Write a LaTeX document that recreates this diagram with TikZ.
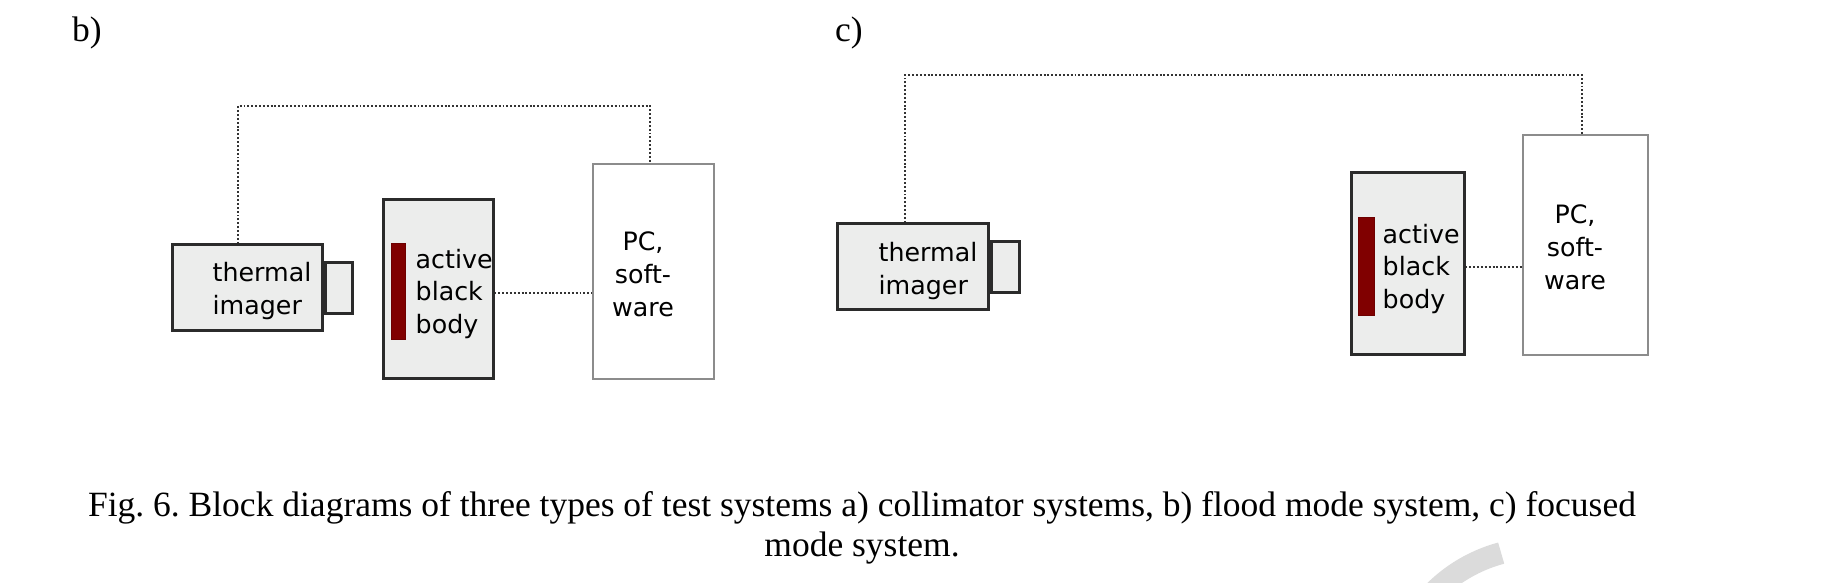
\documentclass[tikz,border=0pt]{standalone}
\usepackage{fontspec}
\setmainfont{Liberation Serif}
\newfontfamily\blockfont{DejaVu Sans}
\usetikzlibrary{positioning}
\frenchspacing
\definecolor{boxfill}{HTML}{ECEDEC}
\definecolor{boxline}{HTML}{2B2B2B}
\definecolor{pcline}{HTML}{8C8C8C}
\definecolor{barred}{HTML}{800000}
\definecolor{wirecol}{HTML}{333333}
\tikzset{
  devbox/.style={draw=boxline, fill=boxfill, line width=0.03cm, inner sep=0pt},
  pcbox/.style={draw=pcline, fill=white, line width=0.025cm, inner sep=0pt},
  heatbar/.style={fill=barred, draw=barred!85!black, line width=0.01cm, inner sep=0pt},
  blocktext/.style={font=\blockfont\fontsize{7.2}{9.4}\selectfont, inner sep=0pt},
  bbtext/.style={font=\blockfont\fontsize{7.2}{9.2}\selectfont, inner sep=0pt, align=left, anchor=west},
  wire/.style={draw=wirecol, line width=0.6pt, dash pattern=on 0.55pt off 0.55pt},
  panel/.style={font=\fontsize{10.1}{11.4}\selectfont, inner sep=0pt},
  watermark/.style={draw=black!14, line width=0.22cm}
}
\begin{document}
\begin{tikzpicture}
\useasboundingbox (0,0) rectangle (18.24,5.83);
\clip (0,0) rectangle (18.24,5.83);

% Drawing watermark arc
\draw[watermark] (15.40,-1.15) ++(105:1.5) arc[start angle=105, end angle=140, radius=1.5];

% Marking panels
\node[panel] (labB) at (0.87,5.50) {b)};
\node[panel] (labC) at (8.49,5.50) {c)};

% Drawing block thermal imager (b)
\node[devbox, minimum width=1.50cm, minimum height=0.86cm] (imgB) at (2.47,2.95) {};
\node[devbox, minimum width=0.27cm, minimum height=0.51cm, anchor=west] (lensB) at (imgB.east) {};
\node[blocktext, align=left, anchor=west] (imgtxtB) at (2.12,2.92) {thermal\\imager};

% Drawing block active black body (b)
\node[devbox, minimum width=1.10cm, minimum height=1.79cm] (bbB) at (4.38,2.935) {};
\node[heatbar, minimum width=0.14cm, minimum height=0.96cm] (barB) at (3.98,2.91) {};
\node[bbtext] (bbtxtB) at (4.15,2.89) {active\\black\\body};

% Drawing block PC (b)
\node[pcbox, minimum width=1.21cm, minimum height=2.15cm] (pcB) at (6.535,3.115) {};
\node[blocktext, align=center] (pctxtB) at (6.43,3.09) {PC,\\soft-\\ware};

% Drawing links (b)
\coordinate (topB) at (6.50,4.77);
\draw[wire] ([xshift=-0.09cm]imgB.north) |- (topB) -- (topB |- pcB.north);
\draw[wire] ([yshift=-0.035cm]bbB.east) -- ([yshift=-0.035cm]bbB.east -| pcB.west);

% Drawing block thermal imager (c)
\node[devbox, minimum width=1.51cm, minimum height=0.86cm] (imgC) at (9.125,3.16) {};
\node[devbox, minimum width=0.28cm, minimum height=0.51cm, anchor=west] (lensC) at (imgC.east) {};
\node[blocktext, align=left, anchor=west] (imgtxtC) at (8.78,3.12) {thermal\\imager};

% Drawing block active black body (c)
\node[devbox, minimum width=1.13cm, minimum height=1.82cm] (bbC) at (14.075,3.19) {};
\node[heatbar, minimum width=0.16cm, minimum height=0.98cm] (barC) at (13.66,3.16) {};
\node[bbtext] (bbtxtC) at (13.82,3.14) {active\\black\\body};

% Drawing block PC (c)
\node[pcbox, minimum width=1.25cm, minimum height=2.20cm] (pcC) at (15.855,3.38) {};
\node[blocktext, align=center] (pctxtC) at (15.75,3.36) {PC,\\soft-\\ware};

% Drawing links (c)
\coordinate (topC) at (15.82,5.08);
\draw[wire] ([xshift=-0.075cm]imgC.north) |- (topC) -- (topC |- pcC.north);
\draw[wire] ([yshift=-0.03cm]bbC.east) -- ([yshift=-0.03cm]bbC.east -| pcC.west);

% Caption
\node[panel, align=center] (caption) at (8.62,0.555) {Fig. 6. Block diagrams of three types of test systems a) collimator systems, b) flood mode system, c) focused\\mode system.};
\end{tikzpicture}
\end{document}
